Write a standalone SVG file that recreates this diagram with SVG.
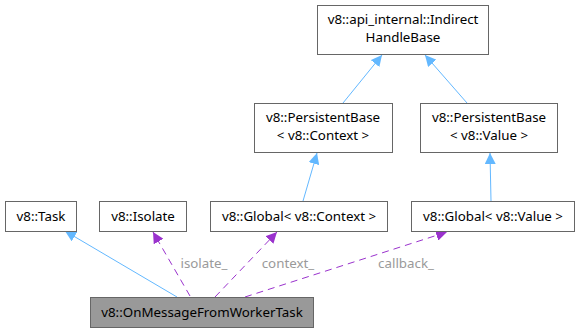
<svg xmlns="http://www.w3.org/2000/svg" width="579" height="333" viewBox="0 0 579 333">
  <style>
    .node rect { fill: #ffffff; stroke: #666666; stroke-width: 1; }
    .node.focus rect { fill: #999999; }
    text { font-family: "Noto Sans", "Open Sans", sans-serif; font-size: 13.33px; fill: #000000; text-anchor: middle; }
    .lbl { fill: #9a9a9a; }
    .inh { stroke: #63b8ff; fill: none; stroke-width: 1; }
    .use { stroke: #9a32cd; fill: none; stroke-width: 1; stroke-dasharray: 7,5; }
  </style>
  <defs>
    <marker id="ahBlue" viewBox="0 0 10 10" refX="10" refY="5" markerWidth="11" markerHeight="11" markerUnits="userSpaceOnUse" orient="auto">
      <path d="M0,0 L10,5 L0,10 Z" fill="#63b8ff"/>
    </marker>
    <marker id="ahPurple" viewBox="0 0 10 10" refX="10" refY="5" markerWidth="11" markerHeight="11" markerUnits="userSpaceOnUse" orient="auto">
      <path d="M0,0 L10,5 L0,10 Z" fill="#9a32cd"/>
    </marker>
  </defs>
  <rect width="579" height="333" fill="#ffffff"/>

  <g id="edges">
    <path class="inh" d="M343,103 L382,55" marker-end="url(#ahBlue)"/>
    <path class="inh" d="M467,103 L425,55" marker-end="url(#ahBlue)"/>
    <path class="inh" d="M303,201 L317,153" marker-end="url(#ahBlue)"/>
    <path class="inh" d="M491,201 L490,153" marker-end="url(#ahBlue)"/>
    <path class="inh" d="M177,297 L65,231" marker-end="url(#ahBlue)"/>
    <path class="use" d="M190,296 L153,232" marker-end="url(#ahPurple)"/>
    <path class="use" d="M215,297 L277,232" marker-end="url(#ahPurple)"/>
    <path class="use" d="M245,297 L447,232" marker-end="url(#ahPurple)"/>
    <text class="lbl" x="204" y="268">isolate_</text>
    <text class="lbl" x="288" y="268">context_</text>
    <text class="lbl" x="406" y="268">callback_</text>
  </g>

  <g id="node-indirecthandlebase" class="node">
    <rect x="317.5" y="5.5" width="171" height="49"/>
    <text x="403" y="24">v8::api_internal::Indirect</text>
    <text x="403" y="42">HandleBase</text>
  </g>
  <g id="node-persistentbase-context" class="node">
    <rect x="254.5" y="103.5" width="138" height="49"/>
    <text x="323" y="122">v8::PersistentBase</text>
    <text x="323" y="140">&lt; v8::Context &gt;</text>
  </g>
  <g id="node-persistentbase-value" class="node">
    <rect x="420.5" y="103.5" width="137" height="49"/>
    <text x="489" y="122">v8::PersistentBase</text>
    <text x="489" y="140">&lt; v8::Value &gt;</text>
  </g>
  <g id="node-task" class="node">
    <rect x="5.5" y="201.5" width="71" height="30"/>
    <text x="41" y="221">v8::Task</text>
  </g>
  <g id="node-isolate" class="node">
    <rect x="99.5" y="201.5" width="87" height="30"/>
    <text x="143" y="221">v8::Isolate</text>
  </g>
  <g id="node-global-context" class="node">
    <rect x="210.5" y="201.5" width="177" height="30"/>
    <text x="299" y="221">v8::Global&lt; v8::Context &gt;</text>
  </g>
  <g id="node-global-value" class="node">
    <rect x="411.5" y="201.5" width="163" height="30"/>
    <text x="493" y="221">v8::Global&lt; v8::Value &gt;</text>
  </g>
  <g id="node-onmessagefromworkertask" class="node focus">
    <rect x="90.5" y="297.5" width="223" height="30"/>
    <text x="202" y="317">v8::OnMessageFromWorkerTask</text>
  </g>
</svg>
